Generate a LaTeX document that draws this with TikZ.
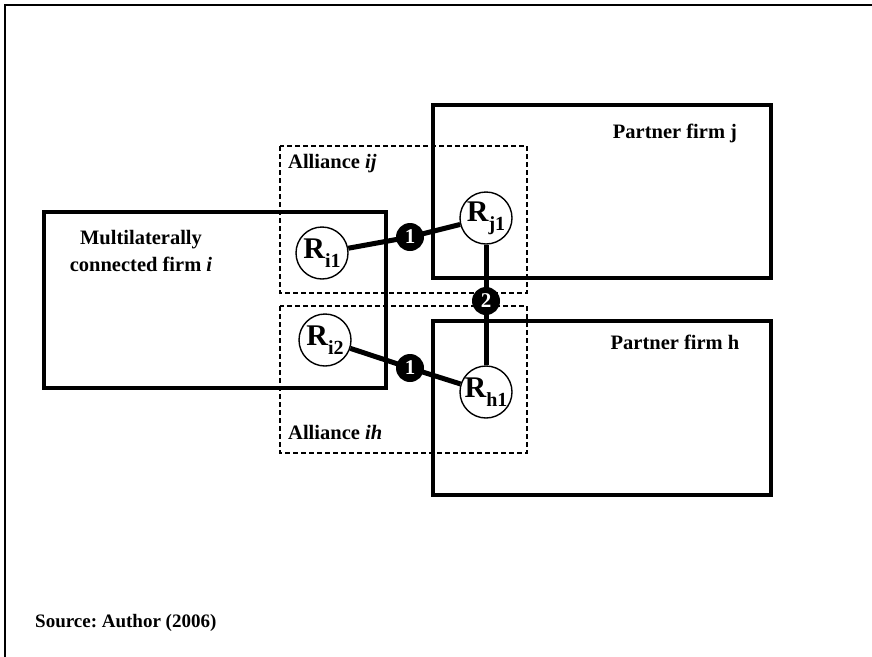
\documentclass[tikz,border=0pt]{standalone}
\usepackage{fontspec}
\setmainfont{Liberation Serif}
\begin{document}
\frenchspacing
\begin{tikzpicture}[x=1pt,y=-1pt,
  firm/.style={draw,line width=3.5pt},
  alliance/.style={draw,line width=1.4pt,dash pattern=on 5pt off 3pt},
  res/.style={circle,draw,fill=white,line width=1.4pt,minimum size=52pt,inner sep=0pt},
  badge/.style={circle,fill=black,text=white,minimum size=28pt,inner sep=0pt,font=\fontsize{21}{21}\selectfont\bfseries},
  link/.style={line width=5pt},
  lbl/.style={font=\fontsize{20.5}{26.5}\selectfont\bfseries,inner sep=0pt}]
\useasboundingbox (0,0) rectangle (872,656);
\draw[line width=2pt] (5,660) -- (5,5) -- (876,5);
% firms
\draw[firm] (44,212) rectangle (386,388);
\draw[firm] (433,105) rectangle (771,278);
\draw[firm] (433,321) rectangle (771,495);
% alliances
\draw[alliance] (280,146) rectangle (527,293);
\draw[alliance] (280,306) rectangle (527,453);
% labels
\node[lbl,align=center] (firmi) at (141,251) {Multilaterally\\connected firm \textit{i}};
\node[lbl] (pj) at (675,133) {Partner firm j};
\node[lbl] (ph) at (675,342) {Partner firm h};
\node[lbl,anchor=west] (aij) at (288,164) {Alliance \textit{ij}};
\node[lbl,anchor=west] (aih) at (288,432) {Alliance \textit{ih}};
\node[lbl,anchor=west] (src) at (35,623) {\fontsize{19}{20}\selectfont Source: Author (2006)};
% resources
\newcommand{\resl}[1]{\fontsize{30}{30}\selectfont\bfseries R\raisebox{-0.3em}{\fontsize{20}{20}\selectfont #1}}
\node[res] (ri1) at (322,253) {\resl{i1}};
\node[res] (rj1) at (486,218) {\resl{j1}};
\node[res] (ri2) at (325,340) {\resl{i2}};
\node[res] (rh1) at (486,392) {\resl{h1}};
\coordinate (c1) at (410,237);
\coordinate (c2) at (486,301);
\coordinate (c3) at (410,368);
\draw[link] (ri1) -- (c1) -- (rj1);
\draw[link] (rj1) -- (c2) -- (rh1);
\draw[link] (ri2) -- (c3) -- (rh1);
\node[badge] (b1) at (c1) {1};
\node[badge] (b2) at (c2) {2};
\node[badge] (b3) at (c3) {1};
\end{tikzpicture}
\end{document}
